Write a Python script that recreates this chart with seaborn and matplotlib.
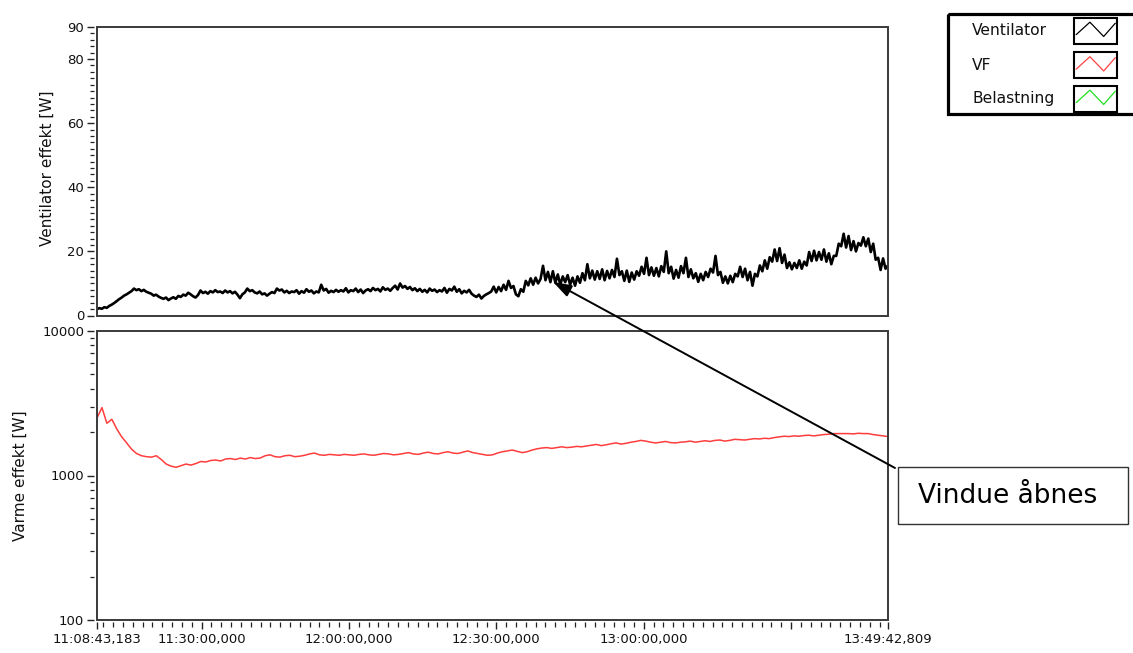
import numpy as np
import pandas as pd
import matplotlib
matplotlib.use("Agg")
import matplotlib.pyplot as plt
from matplotlib.patches import Rectangle, ConnectionPatch
from matplotlib.ticker import FixedLocator, LogLocator, NullFormatter, MultipleLocator
import seaborn as sns

# ---------------------------------------------------------------- data
run_start = "11:08:43,183"
run_end = "13:49:42,809"

# Ventilator power [W], one sample every 30 s
ventilator_w = [
    2.0, 2.3, 2.1, 2.6, 2.4, 3.0, 3.4, 3.9, 4.5, 5.1,
    5.6, 6.2, 6.6, 7.1, 7.6, 8.4, 7.9, 8.2, 7.6, 8.0,
    7.4, 7.1, 6.8, 6.2, 6.5, 5.9, 5.5, 5.2, 5.6, 4.8,
    5.3, 5.7, 5.2, 6.1, 5.8, 6.5, 6.2, 7.1, 6.6, 6.0,
    5.6, 6.4, 7.8, 7.0, 7.4, 6.8, 7.6, 7.2, 7.9, 7.3,
    7.5, 7.0, 7.8, 7.2, 7.6, 6.9, 7.4, 6.5, 5.4, 6.6,
    7.2, 8.4, 7.6, 7.9, 7.2, 6.9, 7.5, 6.6, 6.9, 6.2,
    6.8, 7.3, 7.0, 8.4, 7.8, 8.1, 7.2, 7.7, 7.0, 7.5,
    7.3, 7.9, 6.8, 7.6, 7.1, 8.2, 7.4, 7.8, 6.9, 7.5,
    7.2, 9.6, 7.8, 8.3, 7.1, 7.7, 7.3, 8.0, 7.4, 7.9,
    7.5, 8.5, 7.2, 7.9, 7.6, 8.4, 7.3, 8.1, 7.0, 7.8,
    8.2, 7.6, 8.6, 7.9, 8.3, 7.5, 8.8, 8.0, 8.4, 7.7,
    8.6, 9.3, 8.1, 10.0, 8.7, 9.2, 8.3, 8.9, 7.9, 8.5,
    7.6, 8.3, 7.4, 8.0, 7.2, 8.4, 7.7, 8.1, 7.3, 7.9,
    7.5, 8.6, 7.1, 8.3, 7.8, 9.0, 7.4, 8.2, 6.9, 7.7,
    7.2, 8.0, 6.8, 6.2, 5.8, 6.5, 5.3, 6.1, 6.6, 7.0,
    7.5, 9.0, 7.2, 8.9, 7.6, 9.6, 8.0, 10.8, 8.6, 9.2,
    6.6, 6.0, 8.2, 7.4, 10.8, 9.4, 11.6, 9.6, 11.8, 10.0,
    11.4, 15.5, 11.0, 13.6, 10.4, 13.8, 10.2, 12.8, 9.6, 12.2,
    10.4, 12.6, 9.6, 11.8, 9.3, 12.2, 10.2, 13.2, 11.0, 16.0,
    11.6, 14.0, 11.2, 13.8, 11.4, 14.4, 11.0, 13.9, 11.6, 14.2,
    12.0, 17.7, 12.6, 13.8, 10.8, 14.0, 10.5, 13.4, 11.2, 13.8,
    12.4, 15.2, 13.0, 18.0, 12.6, 15.0, 12.4, 14.8, 12.2, 15.4,
    13.6, 20.0, 13.2, 15.2, 11.5, 14.2, 11.8, 15.4, 13.2, 18.0,
    12.0, 14.4, 11.6, 13.2, 10.5, 13.0, 11.0, 13.6, 12.0, 14.6,
    13.4, 18.6, 12.6, 13.6, 10.2, 12.2, 10.0, 12.4, 10.4, 13.0,
    12.2, 15.2, 12.0, 14.6, 11.0, 13.6, 9.3, 13.0, 12.2, 15.6,
    13.8, 17.2, 14.6, 18.2, 16.8, 20.6, 17.0, 21.0, 16.4, 19.0,
    14.8, 16.6, 14.4, 16.4, 14.8, 17.2, 14.6, 16.8, 15.6, 19.8,
    17.0, 20.2, 17.2, 19.8, 17.4, 20.6, 16.8, 19.4, 16.0, 18.6,
    18.6, 22.4, 21.6, 25.5, 21.2, 24.8, 20.4, 23.2, 20.0, 22.6,
    21.8, 24.4, 21.6, 24.0, 19.8, 22.4, 17.4, 18.0, 14.2, 17.8,
    14.6, 15.6,
]

# VF heating power [W], one sample per minute
vf_w = [
    2500, 2950, 2300, 2450, 2100, 1850, 1680, 1520, 1420, 1370,
    1350, 1340, 1370, 1290, 1200, 1160, 1140, 1170, 1200, 1180,
    1210, 1250, 1240, 1270, 1280, 1260, 1300, 1310, 1290, 1320,
    1300, 1330, 1310, 1320, 1370, 1390, 1350, 1340, 1370, 1380,
    1350, 1360, 1380, 1410, 1430, 1390, 1380, 1400, 1390, 1380,
    1400, 1390, 1380, 1400, 1410, 1390, 1380, 1400, 1420, 1410,
    1390, 1400, 1420, 1440, 1410, 1400, 1430, 1450, 1420, 1410,
    1440, 1460, 1430, 1420, 1450, 1480, 1440, 1420, 1400, 1380,
    1390, 1430, 1460, 1480, 1500, 1470, 1440, 1460, 1500, 1530,
    1550, 1560, 1540, 1560, 1580, 1560, 1570, 1590, 1580, 1600,
    1620, 1640, 1610, 1630, 1660, 1680, 1650, 1670, 1700, 1720,
    1750, 1730, 1700, 1680, 1700, 1720, 1690, 1680, 1700, 1710,
    1730, 1700, 1720, 1740, 1720, 1750, 1760, 1730, 1750, 1780,
    1770, 1760, 1780, 1800, 1790, 1810, 1800, 1830, 1850, 1870,
    1860, 1880, 1870, 1890, 1900, 1880, 1900, 1920, 1930, 1950,
    1950, 1950, 1950, 1940, 1960, 1950, 1950, 1920, 1900, 1880,
    1860,
]

x_tick_times = ["11:08:43,183", "11:30:00,000", "12:00:00,000", "12:30:00,000",
                "13:00:00,000", "13:30:00,000", "13:49:42,809"]
x_tick_labels = ["11:08:43,183", "11:30:00,000", "12:00:00,000", "12:30:00,000",
                 "13:00:00,000", "", "13:49:42,809"]
vent_yticks = [0, 20, 40, 60, 80, 90]
heat_yticks = [100, 1000, 10000]
heat_ylabels = ["100", "1000", "10000"]

legend_names = ["Ventilator", "VF", "Belastning"]
legend_colors = ["#000000", "#ff4343", "#1fe01f"]

window_open_time = "12:41:31,000"
window_open_w = 10.5
note_text = "Vindue åbnes"


def clock_to_seconds(stamp):
    hms, ms = stamp.split(",")
    h, m, s = (int(v) for v in hms.split(":"))
    return h * 3600 + m * 60 + s + int(ms) / 1000.0


t0 = clock_to_seconds(run_start)
t1 = clock_to_seconds(run_end)

vent_df = pd.DataFrame({"t": np.linspace(t0, t1, len(ventilator_w)), "P": ventilator_w})
vf_df = pd.DataFrame({"t": np.linspace(t0, t1, len(vf_w)), "P": vf_w})

# ---------------------------------------------------------------- figure
sns.set_theme(style="white")
plt.rcParams["font.family"] = ["DejaVu Sans"]
plt.rcParams["text.color"] = "#111111"

W, H = 1133, 653
fig = plt.figure(figsize=(W / 100, H / 100), dpi=100)
fig.patch.set_facecolor("white")

ax1 = fig.add_axes([97 / W, 1 - 315.5 / H, 791 / W, 288.5 / H])
ax2 = fig.add_axes([97 / W, 1 - 620 / H, 791 / W, 289 / H], sharex=ax1)

sns.lineplot(data=vent_df, x="t", y="P", ax=ax1, color="black",
             linewidth=1.9, estimator=None)
sns.lineplot(data=vf_df, x="t", y="P", ax=ax2, color="#ff3d3d",
             linewidth=1.1, estimator=None)

frame_color = "#3a3a3a"
for ax in (ax1, ax2):
    ax.set_facecolor("white")
    for side in ("left", "right", "top", "bottom"):
        ax.spines[side].set_visible(False)
    ax.spines["left"].set_position(("outward", 2.2))
    ax.spines["bottom"].set_position(("outward", 1.6))
    ax.add_patch(Rectangle((0, 0), 1, 1, transform=ax.transAxes, fill=False,
                           lw=1.4, ec=frame_color, clip_on=False, zorder=4))
    ax.tick_params(axis="y", which="major", left=True, length=5, width=1.0,
                   color="#222222", pad=2, labelsize=9.5, labelcolor="#111111")
    ax.tick_params(axis="y", which="minor", left=True, length=2.8, width=0.9,
                   color="#222222")
    ax.set_xlabel("")

# top panel: ventilator
ax1.set_ylim(0, 90)
ax1.yaxis.set_major_locator(FixedLocator(vent_yticks))
ax1.yaxis.set_minor_locator(MultipleLocator(2))
ax1.set_ylabel("Ventilator effekt [W]", fontsize=11, color="#111111")
ax1.yaxis.set_label_coords(-0.053, 0.51)
ax1.tick_params(axis="x", which="both", bottom=False, labelbottom=False)

# bottom panel: heating power, logarithmic
ax2.set_yscale("log")
ax2.set_ylim(100, 10000)
ax2.set_yticks(heat_yticks, heat_ylabels)
ax2.yaxis.set_minor_locator(LogLocator(base=10, subs=np.arange(2, 10)))
ax2.yaxis.set_minor_formatter(NullFormatter())
ax2.set_ylabel("Varme effekt [W]", fontsize=11, color="#111111")
ax2.yaxis.set_label_coords(-0.087, 0.5)

x_ticks = [clock_to_seconds(s) for s in x_tick_times]
ax2.set_xlim(t0, t1)
ax2.set_xticks(x_ticks, x_tick_labels)
ax2.xaxis.set_minor_locator(MultipleLocator(120))
ax2.tick_params(axis="x", which="major", bottom=True, length=5, width=1.0,
                color="#222222", pad=3, labelsize=9.5, labelcolor="#111111")
ax2.tick_params(axis="x", which="minor", bottom=True, length=3.4, width=0.9,
                color="#222222")

# ---------------------------------------------------------------- legend
lax = fig.add_axes([948 / W, 1 - 114 / H, 188 / W, 100 / H])
lax.set_xlim(0, 188)
lax.set_ylim(100, 0)
lax.axis("off")
lax.add_patch(Rectangle((0, 0), 188, 100, fill=False, lw=2.3, ec="black",
                        clip_on=False))
row_centres = [16.5, 51, 84.5]
zig_x = np.array([0.05, 0.37, 0.69, 0.96])
zig_y = np.array([0.34, 0.82, 0.27, 0.78])
for name, col, cy in zip(legend_names, legend_colors, row_centres):
    lax.text(24, cy, name, fontsize=11.2, va="center", ha="left", color="#111111")
    lax.add_patch(Rectangle((126, cy - 13), 43, 26, fc="white", ec="black",
                            lw=1.5, clip_on=False))
    lax.plot(126 + 43 * zig_x, cy + 13 - 26 * zig_y, color=col, lw=0.9)

# ---------------------------------------------------------------- annotation
fig.add_artist(Rectangle((898 / W, 1 - 524 / H), 230 / W, 57 / H,
                         transform=fig.transFigure, fill=False, lw=1.0,
                         ec="#333333"))
fig.text(918 / W, 1 - 496 / H, note_text, fontsize=19, ha="left",
         va="center", color="black")
arrow = ConnectionPatch(xyA=(895 / W, 1 - 468 / H), coordsA="figure fraction",
                        xyB=(clock_to_seconds(window_open_time), window_open_w),
                        coordsB="data", axesB=ax1,
                        arrowstyle="-|>,head_length=0.45,head_width=0.15",
                        mutation_scale=25, lw=1.4, color="black",
                        shrinkA=0, shrinkB=0)
fig.add_artist(arrow)

fig.savefig("out.png", dpi=100)
